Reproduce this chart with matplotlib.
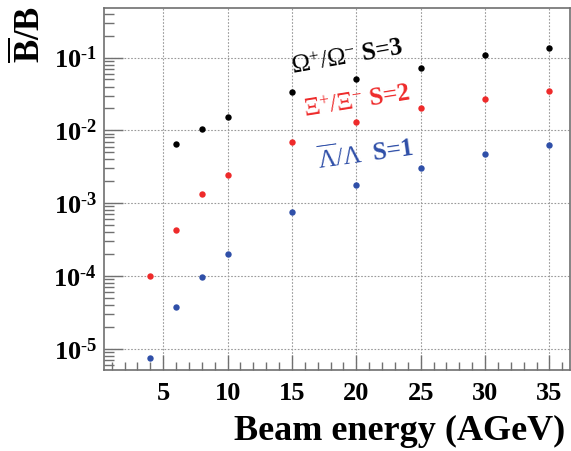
import matplotlib
matplotlib.use("Agg")
import matplotlib.pyplot as plt
from matplotlib.ticker import LogLocator, FixedLocator, NullFormatter

# beam energies (AGeV) and antibaryon/baryon ratios
energy = [4, 6, 8, 10, 15, 20, 25, 30, 35]
omega_ratio = [None, 6.6e-3, 1.05e-2, 1.52e-2, 3.4e-2, 5.05e-2, 7.3e-2, 0.109, 0.134]
xi_ratio = [1.0e-4, 4.3e-4, 1.33e-3, 2.4e-3, 7.0e-3, 1.3e-2, 2.0e-2, 2.72e-2, 3.47e-2]
lambda_ratio = [7.4e-6, 3.75e-5, 9.8e-5, 2.0e-4, 7.5e-4, 1.8e-3, 3.05e-3, 4.7e-3, 6.35e-3]

x_ticks = [5, 10, 15, 20, 25, 30, 35]
y_ticks = [1e-5, 1e-4, 1e-3, 1e-2, 1e-1]
y_tick_labels = [r"$\mathbf{10^{\text{-}5}}$", r"$\mathbf{10^{\text{-}4}}$", r"$\mathbf{10^{\text{-}3}}$",
                 r"$\mathbf{10^{\text{-}2}}$", r"$\mathbf{10^{\text{-}1}}$"]

plt.rcParams["font.family"] = ["Liberation Serif", "DejaVu Serif"]
plt.rcParams["mathtext.fontset"] = "custom"
plt.rcParams["mathtext.rm"] = "Liberation Serif"
plt.rcParams["mathtext.it"] = "Liberation Serif:italic"
plt.rcParams["mathtext.bf"] = "Liberation Serif:bold"

BLACK = "#000000"
RED = "#ee2a2a"
BLUE = "#2f4fa8"
FRAME = "#707070"

fig = plt.figure(figsize=(5.71, 4.51), dpi=100)
ax = fig.add_axes([104 / 571, 1 - 370 / 451, 466 / 571, 362 / 451])

ox = [e for e, v in zip(energy, omega_ratio) if v is not None]
oy = [v for v in omega_ratio if v is not None]
ax.plot(ox, oy, "o", color=BLACK, ms=4.6, mew=0)
ax.plot(energy, xi_ratio, "o", color=RED, ms=4.6, mew=0)
ax.plot(energy, lambda_ratio, "o", color=BLUE, ms=4.6, mew=0)

ax.set_yscale("log")
ax.set_xlim(0.4, 36.6)
ax.set_ylim(5.1e-6, 0.48)

ax.xaxis.set_major_locator(FixedLocator(x_ticks))
ax.xaxis.set_minor_locator(FixedLocator(range(1, 37)))
ax.set_xticklabels([str(t) for t in x_ticks], fontsize=19, fontweight="bold")
ax.yaxis.set_major_locator(FixedLocator(y_ticks))
ax.set_yticklabels(y_tick_labels, fontsize=19)
ax.yaxis.set_minor_locator(LogLocator(base=10, subs=range(2, 10), numticks=20))
ax.yaxis.set_minor_formatter(NullFormatter())

ax.tick_params(which="both", direction="in", top=False, right=False, color=FRAME)
ax.tick_params(axis="y", which="major", length=14, width=1, pad=5)
ax.tick_params(axis="y", which="minor", length=7, width=1)
ax.tick_params(axis="x", which="major", length=11, width=1, pad=9)
ax.tick_params(axis="x", which="minor", length=6, width=1)

for s in ax.spines.values():
    s.set_color(FRAME)
    s.set_linewidth(1.2)

ax.grid(True, which="major", color="#9a9a9a", linestyle=(0, (1.5, 1.5)), linewidth=0.8)
ax.set_axisbelow(True)

ax.set_xlabel("Beam energy (AGeV)", fontsize=26, fontweight="bold", ha="right", va="center")
ax.xaxis.set_label_coords(0.989, -0.171)
ax.set_ylabel(r"$\mathbf{\overline{B}/B}$", fontsize=25, ha="right", va="center")
ax.yaxis.set_label_coords(-0.159, 1.006)

# rotated labels: greek part regular, strangeness part bold
ax.text(15.05, 0.06, r"$\Omega^{+}/\Omega^{-}$ S=3", color=BLACK, fontsize=18, fontweight="bold",
        rotation=10, rotation_mode="anchor", ha="left", va="baseline")
ax.text(16.0, 0.0151, r"$\Xi^{+}/\Xi^{-}$ S=2", color=RED, fontsize=18, fontweight="bold",
        rotation=9, rotation_mode="anchor", ha="left", va="baseline")
ax.text(17.1, 3.0e-3, r"$\overline{\Lambda}/\Lambda$  S=1", color=BLUE, fontsize=18, fontweight="bold",
        rotation=8, rotation_mode="anchor", ha="left", va="baseline")

fig.savefig("out.png", dpi=100)
